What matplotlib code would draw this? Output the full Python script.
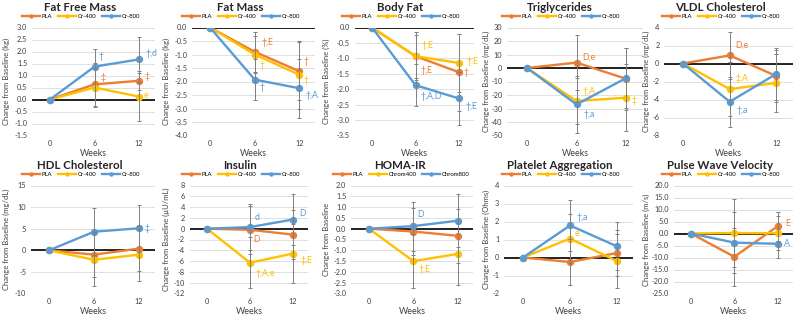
import matplotlib
matplotlib.use('Agg')
import matplotlib.pyplot as plt
from matplotlib.ticker import FormatStrFormatter

plt.rcParams['font.family'] = ['Lato', 'DejaVu Sans']
plt.rcParams['axes.unicode_minus'] = False

weeks = ['0', '6', '12']
names = ['PLA', 'Cr-400', 'Cr-800']
names_homa = ['PLA', 'Chrom400', 'Chrom800']
colors = ['#ED7D31', '#FFC000', '#5B9BD5']

# mean change from baseline, one row per group (PLA, Cr-400, Cr-800)
fat_free_mass = [[0, 0.63, 0.78], [0, 0.50, 0.12], [0, 1.37, 1.67]]
fat_free_mass_sd = [[0, 0.90, 0.40], [0, 0.80, 1.00], [0, 0.73, 0.93]]
fat_mass = [[0, -0.90, -1.62], [0, -1.00, -1.75], [0, -1.93, -2.25]]
fat_mass_sd = [[0, 0.75, 1.07], [0, 0.70, 1.25], [0, 0.77, 1.10]]
body_fat = [[0, -0.93, -1.45], [0, -0.93, -1.15], [0, -1.87, -2.30]]
body_fat_sd = [[0, 0.78, 1.25], [0, 0.70, 0.95], [0, 0.68, 0.85]]
triglycerides = [[0, 4, -8], [0, -24.5, -22], [0, -27, -7.5]]
triglycerides_sd = [[0, 20.5, 23], [0, 17, 25], [0, 21, 22]]
vldl = [[0, 0.9, -1.4], [0, -2.85, -2.15], [0, -4.25, -1.15]]
vldl_sd = [[0, 2.6, 2.9], [0, 3.0, 3.25], [0, 2.75, 2.9]]
hdl = [[0, -1.0, 0.4], [0, -2.2, -1.0], [0, 4.3, 5.1]]
hdl_sd = [[0, 5.2, 5.2], [0, 6.1, 6.0], [0, 5.5, 5.4]]
insulin = [[0, -0.2, -1.1], [0, -6.3, -4.6], [0, 0.3, 1.7]]
insulin_sd = [[0, 4.4, 4.5], [0, 4.7, 5.4], [0, 4.2, 4.8]]
homa_ir = [[0, -0.13, -0.33], [0, -1.50, -1.17], [0, 0.12, 0.37]]
homa_ir_sd = [[0, 1.10, 1.25], [0, 1.25, 1.43], [0, 1.13, 1.23]]
platelet = [[0, -0.25, 0.25], [0, 1.05, -0.20], [0, 1.78, 0.62]]
platelet_sd = [[0, 1.30, 1.30], [0, 1.35, 1.50], [0, 1.42, 1.33]]
pwv = [[0, -9.7, 3.0], [0, 0.2, 0.1], [0, -3.8, -4.3]]
pwv_sd = [[0, 12.1, 6.0], [0, 14.3, 7.0], [0, 12.6, 6.0]]

# significance notes: (group, week index, text, dx, dy) offsets in points
ffm_notes = [(2, 1, '†', 5, 7), (0, 1, '‡', 6, 5), (2, 2, '†,d', 9, 4), (0, 2, '‡', 6, 3), (1, 2, 'e', 5, 1)]
fm_notes = [(0, 1, '†,E', 9, 7), (1, 1, '†', 5, -8), (2, 1, '†', 5, -6), (0, 2, '†', 5, 7), (1, 2, '†', 5, -4), (2, 2, '†,A', 9, -5)]
bf_notes = [(1, 1, '†,E', 9, 8), (0, 1, '†,E', 8, -10), (2, 1, '†,A,D', 11, -8), (1, 2, '†,E', 10, 1), (0, 2, '†', 5, 0), (2, 2, '†,E', 9, -6)]
tg_notes = [(0, 1, 'D,e', 9, 4), (1, 1, '†,A', 9, 7), (2, 1, '†,a', 9, -7), (1, 2, '‡', 6, -2)]
vldl_notes = [(0, 1, 'D,e', 9, 7), (1, 1, '‡,A', 9, 8), (2, 1, '†,a', 9, -6)]
hdl_notes = [(2, 2, '‡', 6, 0)]
ins_notes = [(2, 1, 'd', 5, 7), (0, 1, 'D', 5, -7), (1, 1, '†,A,e', 11, -8), (2, 2, 'D', 7, 4), (1, 2, '‡,E', 10, -5)]
homa_notes = [(2, 1, 'D', 5, 8), (1, 1, '†,E', 8, -6)]
plt_notes = [(2, 1, '†,a', 9, 6), (1, 1, 'e', 5, 4)]
pwv_notes = [(0, 2, 'E', 7, 2), (2, 2, 'A', 7, 0)]

panels = [
    ('Fat Free Mass', 'Change from Baseline (kg)', fat_free_mass, fat_free_mass_sd, (-1.5, 3.0, 0.5), '%.1f', ffm_notes, names),
    ('Fat Mass', 'Change from Baseline (kg)', fat_mass, fat_mass_sd, (-4.0, 0.0, 0.5), '%.1f', fm_notes, names),
    ('Body Fat', 'Change from Baseline (%)', body_fat, body_fat_sd, (-3.5, 0.0, 0.5), '%.1f', bf_notes, names),
    ('Triglycerides', 'Change from Baseline (mg/dL)', triglycerides, triglycerides_sd, (-50, 30, 10), '%d', tg_notes, names),
    ('VLDL Cholesterol', 'Change from Baseline (mg/dL)', vldl, vldl_sd, (-8, 4, 2), '%d', vldl_notes, names),
    ('HDL Cholesterol', 'Change from Baseline (mg/dL)', hdl, hdl_sd, (-10, 15, 5), '%d', hdl_notes, names),
    ('Insulin', 'Change from Baseline (µU/mL)', insulin, insulin_sd, (-12, 8, 2), '%d', ins_notes, names),
    ('HOMA-IR', 'Change from Baseline', homa_ir, homa_ir_sd, (-3.0, 2.0, 0.5), '%.1f', homa_notes, names_homa),
    ('Platelet Aggregation', 'Change from Baseline (Ohms)', platelet, platelet_sd, (-2, 4, 1), '%d', plt_notes, names),
    ('Pulse Wave Velocity', 'Change from Baseline (m/s)', pwv, pwv_sd, (-25.0, 20.0, 5.0), '%.1f', pwv_notes, names),
]

# layout in pixels: x of week 0 and spacing between weeks for each panel
x0_px = [50, 210, 372, 527, 683, 49, 207, 369, 523, 691]
sp_px = [44.5, 44.7, 43.5, 49.5, 46.7, 45, 43, 44.3, 47, 43.3]
W, H = 800, 318

fig = plt.figure(figsize=(8, 3.18), dpi=100)
x = [0, 1, 2]

for i, (title, ylab, means, sds, (ylo, yhi, step), fmt, notes, labels) in enumerate(panels):
    row, col = divmod(i, 5)
    px, py = col * 160, row * 158
    lo, hi = -0.4, 2.35
    left = x0_px[i] + lo * sp_px[i]
    right = x0_px[i] + hi * sp_px[i]
    top, bot = py + 27.5, py + 135.5
    ax = fig.add_axes([left / W, 1 - bot / H, (right - left) / W, (bot - top) / H])

    ax.set_xlim(lo, hi)
    ax.set_ylim(ylo, yhi)
    ticks = [ylo + k * step for k in range(int(round((yhi - ylo) / step)) + 1)]
    ax.set_yticks(ticks)
    ax.yaxis.set_major_formatter(FormatStrFormatter(fmt))
    ax.set_xticks(x)
    ax.set_xticklabels(weeks)
    ax.tick_params(length=0, labelsize=5.3, colors='#404040', pad=3.5)
    for s in ax.spines.values():
        s.set_visible(False)
    ax.yaxis.grid(True, color='#d9d9d9', lw=0.6)
    ax.set_axisbelow(True)
    ax.axhline(0, color='black', lw=1.2, zorder=2)

    for g in range(3):
        ax.plot(x, means[g], color=colors[g], lw=1.7, marker='o', ms=4.3,
                label=labels[g], zorder=3)
    for g in range(3):
        ax.errorbar(x[1:], means[g][1:], yerr=sds[g][1:], fmt='none',
                    ecolor='#808080', elinewidth=0.7, capsize=1.6,
                    capthick=0.7, zorder=4)

    for g, w, txt, dx, dy in notes:
        ax.annotate(txt, (x[w], means[g][w]), xytext=(dx, dy),
                    textcoords='offset points', ha='center', va='center',
                    color=colors[g], fontsize=6.3, zorder=5)

    ax.set_xlabel('Weeks', fontsize=6.4, color='#404040', labelpad=1.5)
    fig.text((px + 6) / W, 1 - (top + bot) / 2 / H, ylab, rotation=90,
             ha='center', va='center', fontsize=5.5, color='#404040')
    fig.text((px + 80) / W, 1 - (py + 7.5) / H, title, ha='center',
             va='center', fontsize=8.3, fontweight='bold', color='#262626')
    ax.legend(loc='center', bbox_to_anchor=((px + 81) / W, 1 - (py + 16.5) / H),
              bbox_transform=fig.transFigure, ncol=3, frameon=False,
              fontsize=4.3, handlelength=3.0, markerscale=0.5,
              columnspacing=0.9, handletextpad=0.3, borderpad=0)

fig.savefig('out.png', dpi=100)
